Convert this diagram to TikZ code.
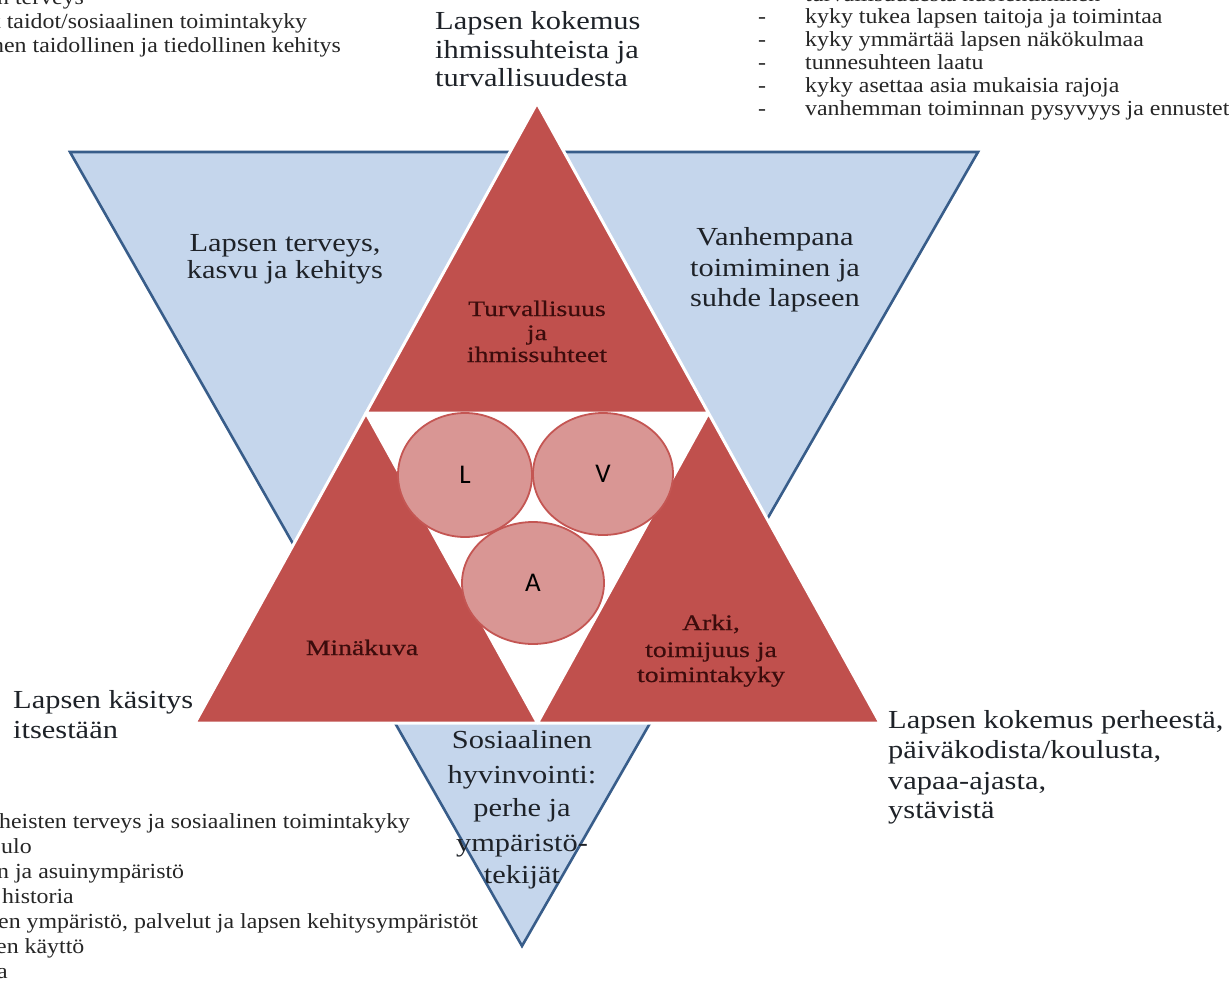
\documentclass[tikz,border=0pt]{standalone}
\usepackage{fontspec}
\setmainfont{Liberation Serif}
\newfontfamily\lblfont[FakeStretch=1.17]{Liberation Serif}
\newfontfamily\redfont[FakeStretch=1.26,FakeBold=0.5]{Liberation Serif}
\newfontfamily\listfont[FakeStretch=1.11]{Liberation Serif}
\newfontfamily\circfont{Carlito}
\usetikzlibrary{shapes.geometric}
\definecolor{bluefill}{RGB}{197,214,236}
\definecolor{bluedraw}{RGB}{56,93,138}
\definecolor{redfill}{RGB}{192,80,77}
\definecolor{circfill}{RGB}{217,150,148}
\definecolor{circdraw}{RGB}{196,86,83}
\definecolor{redtext}{RGB}{60,12,12}
\definecolor{lbltext}{RGB}{30,34,40}
\begin{document}
\begin{tikzpicture}[x=1pt,y=-1pt,
  bluetri/.style={fill=bluefill,draw=bluedraw,line width=2.6pt},
  redtri/.style={fill=redfill,draw=white,line width=3pt,line join=round},
  circ/.style={ellipse,fill=circfill,draw=circdraw,line width=1.8pt,inner sep=0pt,
    font=\circfont\fontsize{27}{30}\selectfont,text=black},
  lbl/.style={font=\lblfont\fontsize{26}{29}\selectfont,text=lbltext,inner sep=0pt,anchor=base},
  lblL/.style={lbl,anchor=base west},
  redlbl/.style={font=\redfont\fontsize{22}{24}\selectfont,text=redtext,inner sep=0pt,anchor=base},
  lst/.style={font=\listfont\fontsize{21.5}{24}\selectfont,text=black!85,inner sep=0pt,anchor=base west}]
\useasboundingbox (0,0) rectangle (1229,986);
\clip (0,0) rectangle (1229,986);
\fill[white] (0,0) rectangle (1229,986);

% blue inverted triangle
\coordinate (b1) at (70,152);
\coordinate (b2) at (978,152);
\coordinate (b3) at (522,946);
\draw[bluetri] (b1) -- (b2) -- (b3) -- cycle;

% big upright triangle and its parts
\coordinate (T) at (537,103);
\coordinate (L0) at (195,723);
\coordinate (R0) at (880,723);
\coordinate (ML) at (366,413);
\coordinate (MR) at (708.5,413);
\coordinate (MB) at (537.5,723);
\fill[white] (ML) -- (MR) -- (MB) -- cycle;
\draw[redtri] (T) -- (ML) -- (MR) -- cycle;
\draw[redtri] (ML) -- (L0) -- (MB) -- cycle;
\draw[redtri] (MR) -- (MB) -- (R0) -- cycle;

% circles
\node[circ,minimum width=134pt,minimum height=124pt] (cL) at (465,475) {L};
\node[circ,minimum width=140pt,minimum height=122pt] (cV) at (603,474) {V};
\node[circ,minimum width=142pt,minimum height=122pt] (cA) at (533,583) {\raisebox{-4pt}{A}};

% red labels
\node[redlbl] (t1) at (537,316) {Turvallisuus};
\node[redlbl] (t2) at (537,340) {ja};
\node[redlbl] (t3) at (537,362) {ihmissuhteet};
\node[redlbl] (m1) at (362,655) {Minäkuva};
\node[redlbl] (a1) at (711,630) {Arki,};
\node[redlbl] (a2) at (711,657) {toimijuus ja};
\node[redlbl] (a3) at (711,682) {toimintakyky};

% big labels
\node[lblL] (k1) at (435,29) {Lapsen kokemus};
\node[lblL] (k2) at (435,58) {ihmissuhteista ja};
\node[lblL] (k3) at (435,86) {turvallisuudesta};
\node[lbl] (h1) at (285,251) {Lapsen terveys,};
\node[lbl] (h2) at (285,278) {kasvu ja kehitys};
\node[lbl] (v1) at (775,245) {Vanhempana};
\node[lbl] (v2) at (775,276) {toimiminen ja};
\node[lbl] (v3) at (775,306) {suhde lapseen};
\node[lblL] (i1) at (13,708) {Lapsen käsitys};
\node[lblL] (i2) at (13,738) {itsestään};
\node[lblL] (p1) at (888,728) {Lapsen kokemus perheestä,};
\node[lblL] (p2) at (888,758) {päiväkodista/koulusta,};
\node[lblL] (p3) at (888,789) {vapaa-ajasta,};
\node[lblL] (p4) at (888,818) {ystävistä};
\node[lbl] (s1) at (522,748) {Sosiaalinen};
\node[lbl] (s2) at (522,783) {hyvinvointi:};
\node[lbl] (s3) at (522,816) {perhe ja};
\node[lbl] (s4) at (522,851) {ympäristö-};
\node[lbl] (s5) at (522,883) {tekijät};

% top-left list
\node[lst] (tl1) at (-3,4) {n terveys};
\node[lst] (tl2) at (-6,28) {t taidot/sosiaalinen toimintakyky};
\node[lst] (tl3) at (-8,52) {nen taidollinen ja tiedollinen kehitys};

% top-right list
\node[lst] (tr0) at (805,1) {turvallisuudesta huolehtiminen};
\node[lst] (d1) at (758,23) {-};
\node[lst] (tr1) at (805,23) {kyky tukea lapsen taitoja ja toimintaa};
\node[lst] (d2) at (758,46) {-};
\node[lst] (tr2) at (805,46) {kyky ymmärtää lapsen näkökulmaa};
\node[lst] (d3) at (758,69) {-};
\node[lst] (tr3) at (805,69) {tunnesuhteen laatu};
\node[lst] (d4) at (758,92) {-};
\node[lst] (tr4) at (805,92) {kyky asettaa asia mukaisia rajoja};
\node[lst] (d5) at (758,115) {-};
\node[lst] (tr5) at (805,115) {vanhemman toiminnan pysyvyys ja ennustet};

% bottom-left list
\node[lst] (bl1) at (-1,828) {heisten terveys ja sosiaalinen toimintakyky};
\node[lst] (bl2) at (1,853) {ulo};
\node[lst] (bl3) at (-3,878) {n ja asuinympäristö};
\node[lst] (bl4) at (2,903) {historia};
\node[lst] (bl5) at (-2,928) {en ympäristö, palvelut ja lapsen kehitysympäristöt};
\node[lst] (bl6) at (-4,953) {en käyttö};
\node[lst] (bl7) at (-3,978) {a};
\end{tikzpicture}
\end{document}
